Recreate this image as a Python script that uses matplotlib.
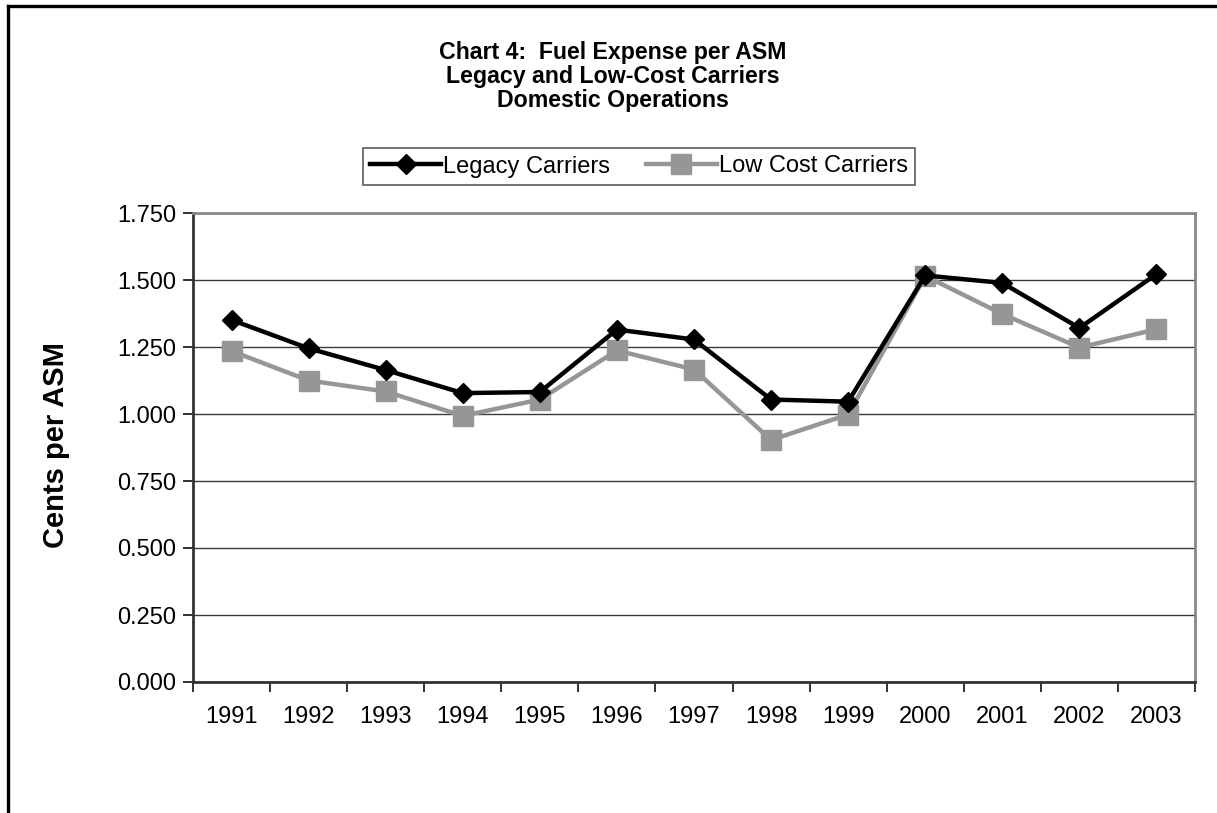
import matplotlib
matplotlib.use("Agg")
import matplotlib.pyplot as plt
from matplotlib.lines import Line2D
import numpy as np

# Fuel expense per available seat mile (cents), domestic operations
years = ["1991", "1992", "1993", "1994", "1995", "1996", "1997",
         "1998", "1999", "2000", "2001", "2002", "2003"]
legacy = [1.351, 1.245, 1.164, 1.078, 1.082, 1.315, 1.278,
          1.054, 1.046, 1.517, 1.489, 1.321, 1.522]
low_cost = [1.235, 1.125, 1.084, 0.993, 1.054, 1.237, 1.166,
            0.903, 0.998, 1.515, 1.373, 1.248, 1.316]
y_ticks = [0.0, 0.25, 0.5, 0.75, 1.0, 1.25, 1.5, 1.75]
title_lines = ["Chart 4:  Fuel Expense per ASM",
               "Legacy and Low-Cost Carriers",
               "Domestic Operations"]

plt.rcParams["font.family"] = ["Liberation Sans", "DejaVu Sans"]

W, H = 1217, 813
fig = plt.figure(figsize=(W / 100, H / 100), dpi=100)
fig.patch.set_facecolor("white")

# outer chart border (top and left edges)
fig.add_artist(Line2D([8 / W, 8 / W], [0, 1 - 6 / H], transform=fig.transFigure,
                      color="black", lw=2.4, solid_capstyle="projecting"))
fig.add_artist(Line2D([8 / W, 1], [1 - 6 / H, 1 - 6 / H], transform=fig.transFigure,
                      color="black", lw=2.4, solid_capstyle="projecting"))

left, right, top, bottom = 193, 1195, 213, 682
ax = fig.add_axes([left / W, 1 - bottom / H, (right - left) / W, (bottom - top) / H])

x = np.arange(len(years))
ax.plot(x, legacy, color="black", lw=3.2, marker="D", markersize=10,
        markerfacecolor="black", markeredgecolor="black", label="Legacy Carriers", zorder=4)
ax.plot(x, low_cost, color="#969696", lw=3.2, marker="s", markersize=14,
        markerfacecolor="#969696", markeredgecolor="#969696", label="Low Cost Carriers", zorder=3)

ax.set_xlim(-0.5, len(years) - 0.5)
ax.set_ylim(0, 1.75)
ax.set_yticks(y_ticks)
ax.set_yticklabels([f"{v:.3f}" for v in y_ticks])
ax.yaxis.grid(True, color="#3a3a3a", lw=1.0)
ax.set_axisbelow(True)

# year labels centred in each category, tick marks on the category boundaries
ax.set_xticks(x)
ax.set_xticklabels(years)
ax.tick_params(axis="x", which="major", length=0, pad=17, labelsize=17)
ax.set_xticks(np.arange(len(years) + 1) - 0.5, minor=True)
ax.tick_params(axis="x", which="minor", length=7, width=1.3, color="#222222", direction="out")
ax.tick_params(axis="y", length=7, width=1.3, color="#222222", pad=5, labelsize=17)

for side in ("left", "bottom"):
    ax.spines[side].set_color("#333333")
    ax.spines[side].set_linewidth(2.0)
for side in ("top", "right"):
    ax.spines[side].set_color("#888888")
    ax.spines[side].set_linewidth(2.0)

fig.text(56 / W, 1 - 445 / H, "Cents per ASM", rotation=90, ha="center", va="center",
         fontsize=21, fontweight="bold")

for i, line in enumerate(title_lines):
    fig.text(613 / W, 1 - (52 + 24.5 * i) / H, line, ha="center", va="center",
             fontsize=16.7, fontweight="bold")

leg = fig.legend(loc="center", bbox_to_anchor=(639 / W, 1 - 166.5 / H), ncol=2,
                 fontsize=17, frameon=True, fancybox=False, edgecolor="#444444",
                 handlelength=3.0, handletextpad=0.1, columnspacing=1.5,
                 borderpad=0.3, borderaxespad=0)
leg.get_frame().set_linewidth(1.3)

fig.savefig("out.png", dpi=100, facecolor="white")
